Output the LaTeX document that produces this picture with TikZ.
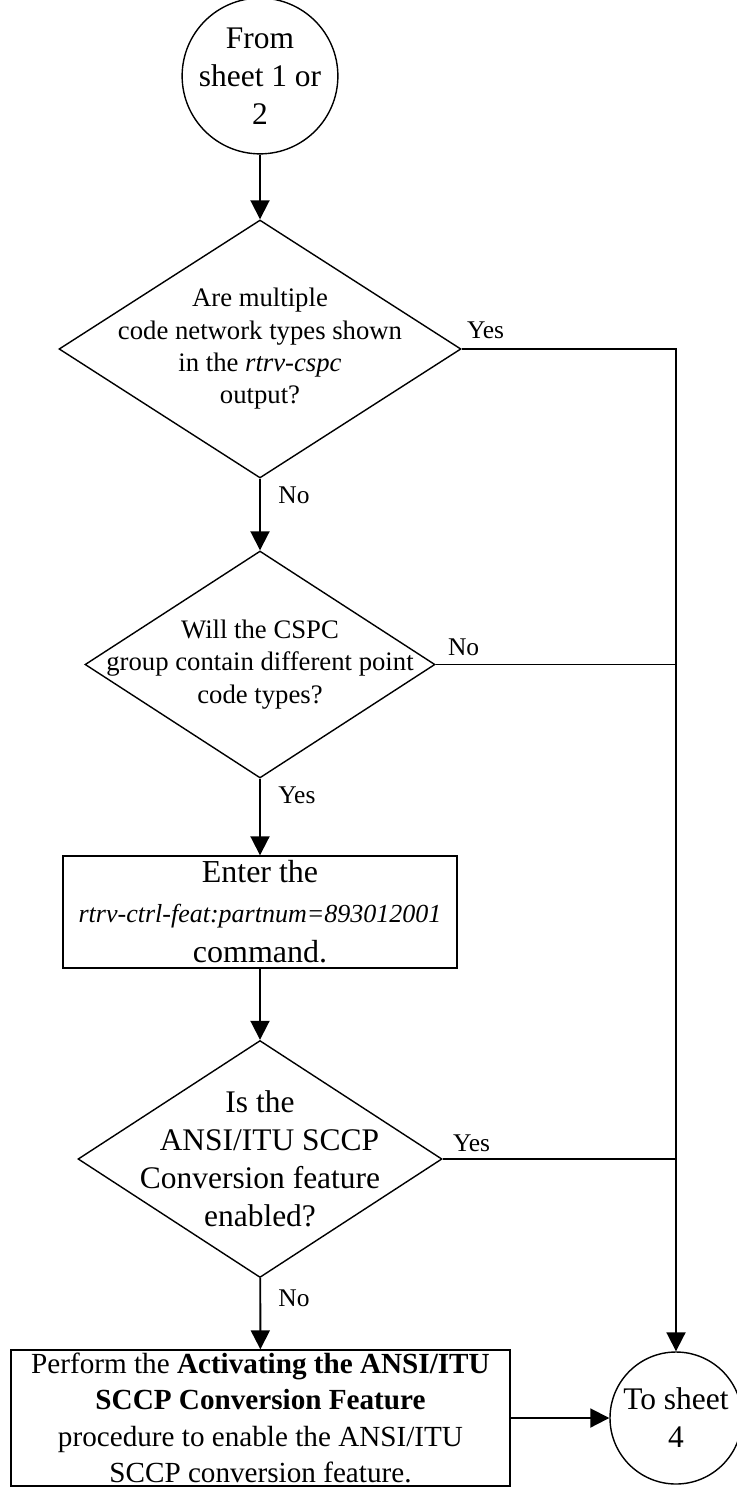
\documentclass[tikz,border=0pt]{standalone}
\usepackage{fontspec}
\setmainfont{Liberation Serif}
\usepackage{tikz}
\usetikzlibrary{shapes.geometric,arrows.meta,calc,positioning}
\newcommand{\fz}[2]{\fontsize{#1}{#2}\selectfont}
\tikzset{
  conector/.style={circle,draw,line width=0.8pt,inner sep=0pt,minimum size=2.7cm,align=center,font=\fz{17.9pt}{21.6pt}},
  decision/.style={diamond,draw,line width=0.8pt,inner sep=0pt},
  caja/.style={rectangle,draw,line width=0.8pt,inner sep=0pt,align=center},
  texto/.style={align=center,inner sep=0pt},
  etiq/.style={inner sep=0pt,font=\fz{14.5pt}{17pt}},
  flecha/.style={-{Triangle[length=0.38cm,width=0.38cm]},line width=1.1pt},
  linea/.style={line width=1.1pt}
}
\begin{document}
\begin{tikzpicture}
\useasboundingbox (0,0) rectangle (14.72,-29.74);
\node[conector,minimum size=2.8cm] (desde) at (5.2,-1.52) {From\\sheet 1 or\\2};
\node[decision,minimum width=8.04cm,minimum height=5.16cm] (q1) at (5.2,-6.98) {};
\node[texto,font=\fz{15.2pt}{18.4pt}] (t1) at (q1) {Are multiple\\code network types shown\\in the \textit{rtrv-cspc}\\output?};
\node[decision,minimum width=7cm,minimum height=4.54cm] (q2) at (5.2,-13.29) {};
\node[texto,font=\fz{15.2pt}{18.4pt}] (t2) at (q2) {Will the CSPC\\group contain different point\\code types?};
\node[caja,minimum width=7.88cm,minimum height=2.24cm,font=\fz{18.2pt}{22.8pt}] (cmd) at (5.2,-18.24)
  {Enter the\\{\fz{14.8pt}{22.8pt}\itshape rtrv-ctrl-feat:partnum=893012001}\\command.};
\node[decision,minimum width=7.28cm,minimum height=4.74cm] (q3) at (5.2,-23.18) {};
\node[texto,font=\fz{17.9pt}{21.6pt}] (t3) at (q3) {Is the\\\hspace*{0.6em}ANSI/ITU SCCP\\Conversion feature\\enabled?};
\node[caja,minimum width=9.98cm,minimum height=2.72cm,font=\fz{16.6pt}{20.8pt}] (act) at (5.21,-28.36)
  {Perform the \textbf{Activating the ANSI/ITU}\\\textbf{SCCP Conversion Feature}\\procedure to enable the ANSI/ITU\\SCCP conversion feature.};
\node[conector,minimum size=2.64cm] (hasta) at (13.52,-28.36) {To sheet\\4};

\draw[flecha] (desde) -- (q1);
\draw[flecha] (q1) -- (q2);
\draw[flecha] (q2) -- (cmd);
\draw[flecha] (cmd) -- (q3);
\draw[flecha] (q3) -- (act);
\draw[flecha] (act) -- (hasta);
\draw[flecha] (q1.east) -| (hasta.north);
\draw[linea] (q2.east) -- (q2.east -| hasta.north);
\draw[linea] (q3.east) -- (q3.east -| hasta.north);

\node[etiq,anchor=base west] (s1) at ($(q1.east)+(0.1,0.2)$) {Yes};
\node[etiq,anchor=west] (n1) at ($(q1.south)+(0.36,-0.34)$) {No};
\node[etiq,anchor=base west] (n2) at ($(q2.east)+(0.24,0.18)$) {No};
\node[etiq,anchor=west] (s2) at ($(q2.south)+(0.36,-0.34)$) {Yes};
\node[etiq,anchor=base west] (s3) at ($(q3.east)+(0.2,0.16)$) {Yes};
\node[etiq,anchor=west] (n3) at ($(q3.south)+(0.36,-0.4)$) {No};
\end{tikzpicture}
\end{document}
